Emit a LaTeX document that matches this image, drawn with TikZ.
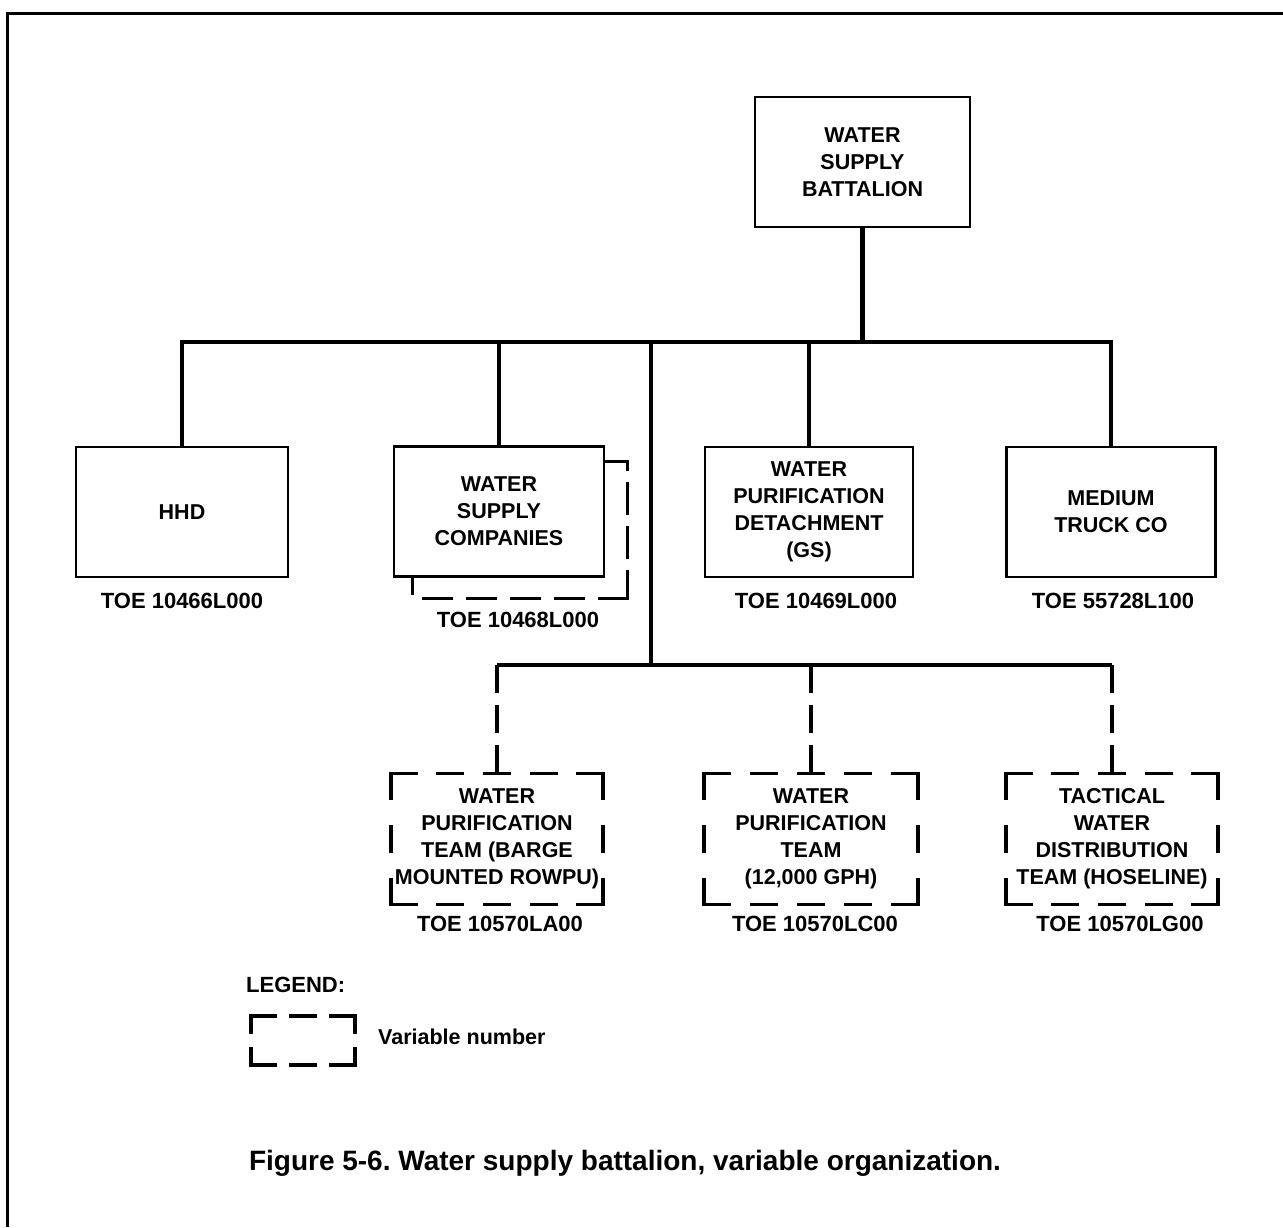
\documentclass[tikz,border=0pt]{standalone}
\usepackage{fontspec}
\setmainfont{Liberation Sans}
\usetikzlibrary{calc}
% dashed outline whose corners always fall on a dash
\newcommand\varframe[3]{%
  \draw[vline, dash pattern=#2] (#1.north west) -- (#1.north east) (#1.south west) -- (#1.south east);
  \draw[vline, dash pattern=#3] (#1.north west) -- (#1.south west) (#1.north east) -- (#1.south east);}
\begin{document}
\frenchspacing
\begin{tikzpicture}[x=1pt,y=-1pt,
  lbl/.style={font=\fontsize{21.5}{27}\selectfont\bfseries, align=center, inner sep=0pt},
  toe/.style={font=\fontsize{22}{27}\selectfont\bfseries, inner sep=0pt},
  unit/.style={lbl, draw, line width=2.6pt, minimum width=#1, minimum height=130pt},
  varbox/.style={lbl, outer sep=0pt, minimum width=#1, minimum height=131pt},
  vline/.style={line width=3.3pt, line cap=rect},
  conn/.style={line width=4.4pt},
  vardash/.style={line width=3.6pt, dash pattern=on 28pt off 12pt},
  frame/.style={line width=3pt}
]
\useasboundingbox (0,0) rectangle (1283,1227);
\draw[frame] (7,1227) -- (7,13) -- (1283,13);

% battalion and its units
\node[unit=215pt] (bn) at (862.5,162) {WATER\\SUPPLY\\BATTALION};
\node[unit=212pt] (hhd) at (182,512) {HHD};
\node[unit=210pt] (wsc) at (499,511.5) {WATER\\SUPPLY\\COMPANIES};
\node[unit=208pt] (wpd) at (809,512) {WATER\\PURIFICATION\\DETACHMENT\\(GS)};
\node[unit=209pt] (mtc) at (1111,512) {MEDIUM\\TRUCK CO};

% stacked outline behind the companies
\draw[vline, dash pattern=on 30pt off 14pt] ($(wsc.north east)+(0,16)$) -- ++(22,0) -- ($(wsc.south east)+(22,21)$);
\draw[vline, dash pattern=on 28pt off 16pt] ($(wsc.south east)+(22,21)$) -- ($(wsc.south west)+(20,21)$) -- ($(wsc.south west)+(20,0)$);

% TOE numbers
\node[toe] (t1) at (182,601) {TOE 10466L000};
\node[toe] (t2) at (518,620) {TOE 10468L000};
\node[toe] (t3) at (816,601) {TOE 10469L000};
\node[toe] (t4) at (1113,601) {TOE 55728L100};

% variable teams
\node[varbox=212pt] (wpt1) at (497,839) {WATER\\PURIFICATION\\TEAM (BARGE\\MOUNTED ROWPU)};
\node[varbox=214pt] (wpt2) at (811,839) {WATER\\PURIFICATION\\TEAM\\(12,000 GPH)};
\node[varbox=212pt] (twd) at (1112,839) {TACTICAL\\WATER\\DISTRIBUTION\\TEAM (HOSELINE)};
\varframe{wpt1}{on 25pt off 21.75pt}{on 25pt off 28pt}
\varframe{wpt2}{on 25pt off 22.25pt}{on 25pt off 28pt}
\varframe{twd}{on 25pt off 21.75pt}{on 25pt off 28pt}

\node[toe] (t5) at (500,924) {TOE 10570LA00};
\node[toe] (t6) at (815,924) {TOE 10570LC00};
\node[toe] (t7) at (1120,924) {TOE 10570LG00};

% connectors
\coordinate (hub) at (651,342);
\coordinate (hub2) at (651,665);
\draw[conn] (bn.south) -- (bn.south |- hub);
\draw[conn] (hhd.north) |- (hub) -| (mtc.north);
\draw[conn] (wsc.north) -- (wsc.north |- hub);
\draw[conn] (wpd.north) -- (wpd.north |- hub);
\draw[conn] (hub) -- (hub2);
\draw[conn] (wpt1.north |- hub2) -- (twd.north |- hub2);
\draw[vardash] (wpt1.north |- hub2) -- (wpt1.north);
\draw[vardash] (wpt2.north |- hub2) -- (wpt2.north);
\draw[vardash] (twd.north |- hub2) -- (twd.north);

% legend
\node[toe, anchor=west] (leg) at (246,985) {LEGEND:};
\node[varbox=104pt, minimum height=49pt] (legbox) at (303,1040.5) {};
\varframe{legbox}{on 24pt off 16pt}{on 16pt off 17pt}
\node[lbl, anchor=west] (legtxt) at (378,1037) {Variable number};

% caption
\node[font=\fontsize{28}{34}\selectfont\bfseries, inner sep=0pt] (cap) at (625,1163) {Figure 5-6. Water supply battalion, variable organization.};
\end{tikzpicture}
\end{document}
